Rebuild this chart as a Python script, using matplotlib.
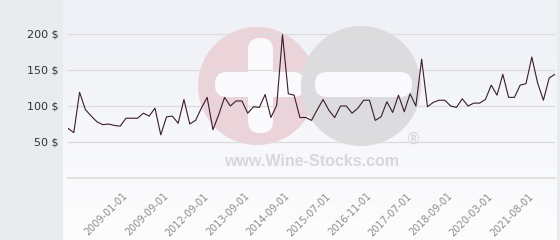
import numpy as np
import matplotlib
matplotlib.use("Agg")
import matplotlib.pyplot as plt
from matplotlib.patches import Circle, FancyBboxPatch
from matplotlib.colors import LinearSegmentedColormap

# prices, one per category
prices = [69, 63, 119, 95, 86, 78, 74, 75, 73, 72,
          83, 83, 83, 90, 86, 97, 60, 85, 86, 76,
          109, 75, 80, 97, 112, 67, 88, 112, 100, 107,
          107, 90, 99, 98, 116, 84, 101, 199, 117, 115,
          84, 84, 80, 95, 109, 94, 84, 100, 100, 90,
          97, 108, 108, 80, 85, 106, 91, 115, 92, 117,
          100, 165, 99, 105, 108, 108, 100, 98, 110, 100,
          104, 104, 109, 129, 115, 144, 112, 112, 129, 131,
          168, 132, 108, 139, 144]

date_labels = ["2009-01-01", "2009-09-01", "2012-09-01", "2013-09-01",
               "2014-09-01", "2015-07-01", "2016-11-01", "2017-07-01",
               "2018-09-01", "2020-03-01", "2021-08-01"]
first_label = 10
label_step = 7

y_ticks = [50, 100, 150, 200]

W, H = 560, 240
fig = plt.figure(figsize=(W / 100, H / 100), dpi=100)
fig.patch.set_facecolor("#e8ecef")

# background layer in pixel coords: gradient + watermark
bg = fig.add_axes([0, 0, 1, 1], zorder=0)
bg.set_xlim(0, W)
bg.set_ylim(H, 0)
bg.axis("off")
grad = np.linspace(0, 1, 100).reshape(-1, 1)
cmap = LinearSegmentedColormap.from_list("bgc", ["#eef0f6", "#fdfdfe"])
bg.imshow(grad, cmap=cmap, extent=(63, 557, H, 0), aspect="auto")

bg.add_patch(Circle((257, 86), 59, color="#ebd3da", lw=0))
bg.add_patch(FancyBboxPatch((260, 50), 1, 71, boxstyle="round,pad=12",
                            fc="#fafafc", ec="none"))
bg.add_patch(FancyBboxPatch((227, 84), 66, 1, boxstyle="round,pad=12",
                            fc="#fafafc", ec="none"))
bg.add_patch(Circle((361, 86), 60, color="#dcdcdf", lw=0))
bg.add_patch(FancyBboxPatch((327, 84), 73, 1, boxstyle="round,pad=12",
                            fc="#fafafc", ec="none"))
bg.text(312, 162, "www.Wine-Stocks.com", ha="center", va="center",
        fontsize=11.5, fontweight="bold", family="Liberation Sans", color="#d8d8da")
bg.text(413, 139, "®", ha="center", va="center", fontsize=11,
        family="DejaVu Sans", color="#d4d4d6")

# main chart
ax = fig.add_axes([68 / W, 62 / H, 487 / W, 178 / H], zorder=1)
ax.set_facecolor("none")
x = np.arange(len(prices))
ax.plot(x, prices, color="#3a1c2b", lw=0.8)
ax.set_xlim(0, len(prices) - 1)
ax.set_ylim(0, 247.2)

ax.set_yticks(y_ticks)
ax.set_yticklabels([f"{v} $" for v in y_ticks])
ax.yaxis.grid(True, color="#dcdcdc", lw=0.9)
ax.axhline(0, color="#dcdcdc", lw=1.2, clip_on=False)
ax.set_axisbelow(True)

tick_pos = [first_label + i * label_step for i in range(len(date_labels))]
ax.set_xticks(tick_pos)
ax.set_xticklabels(date_labels, rotation=45, ha="right", va="center",
                   rotation_mode="anchor")
ax.tick_params(axis="x", length=0, pad=12, labelsize=7, labelcolor="#8c8c8c")
ax.tick_params(axis="y", length=0, pad=6.5, labelsize=8, labelcolor="#333333")
for lab in ax.get_xticklabels():
    lab.set_family("DejaVu Sans")
for s in ax.spines.values():
    s.set_visible(False)

fig.savefig("out.png", dpi=100, facecolor=fig.get_facecolor())
